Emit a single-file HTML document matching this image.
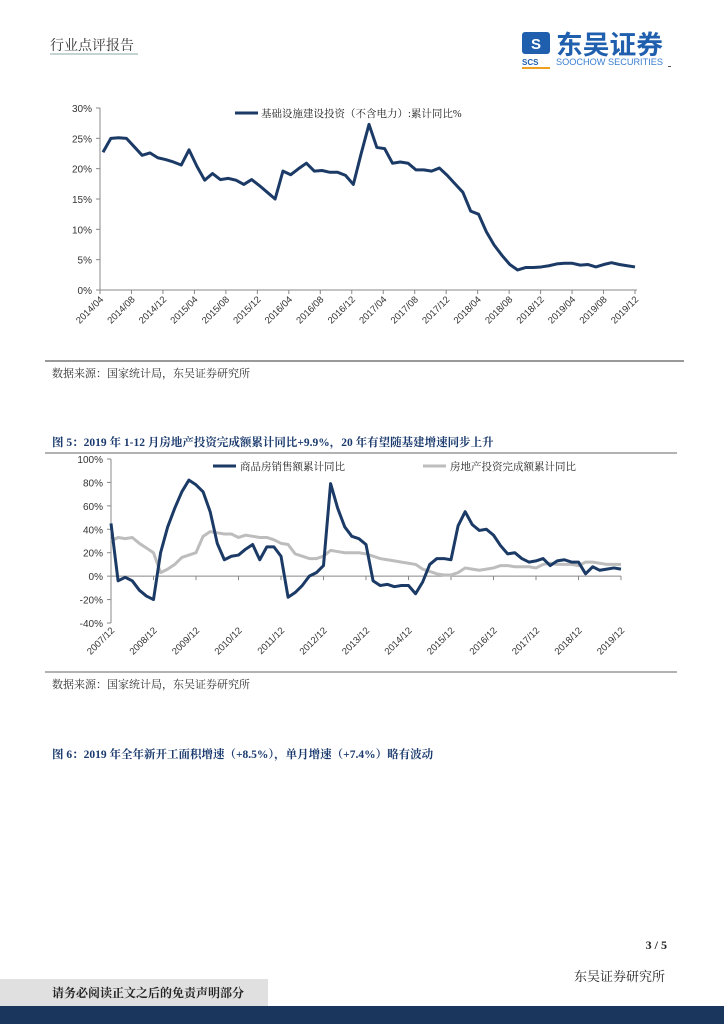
<!DOCTYPE html>
<html><head><meta charset="utf-8">
<style>
html,body{margin:0;padding:0;background:#fff;}
svg{display:block;font-family:"Liberation Serif","Noto Serif CJK SC",serif;}
.sans{font-family:"Liberation Sans","Noto Sans CJK SC",sans-serif;}
</style></head>
<body>
<svg id="pg" width="724" height="1024" viewBox="0 0 724 1024" xmlns="http://www.w3.org/2000/svg">
  <text x="50" y="50" font-size="14" fill="#333">行业点评报告</text>
  <line x1="50" y1="54" x2="138" y2="54" stroke="#8aa" stroke-width="1"/>
  <g>
    <rect x="522" y="32" width="28" height="22" fill="#1f5fae" rx="3"/>
    <text x="536" y="49" font-size="15" fill="#fff" text-anchor="middle" class="sans" font-weight="bold">S</text>
    <text x="522" y="65" font-size="8" fill="#1f5fae" class="sans" font-weight="bold">SCS</text>
    <rect x="522" y="67" width="28" height="2" fill="#f0a020"/>
    <text x="556" y="54" font-size="26" fill="#1f5fae" class="sans" font-weight="bold" textLength="107" lengthAdjust="spacingAndGlyphs">东吴证券</text>
    <text x="556" y="65" font-size="9" fill="#3a7fd0" class="sans" textLength="107" lengthAdjust="spacingAndGlyphs">SOOCHOW SECURITIES</text>
  </g>
  <rect x="668" y="66" width="3" height="1" fill="#555"/>

  <g id="chart1"></g>
  <line x1="45" y1="361" x2="684" y2="361" stroke="#333" stroke-width="1"/>
  <text x="52" y="377" font-size="11" fill="#333">数据来源：国家统计局，东吴证券研究所</text>

  <text x="52" y="446" font-size="11.5" fill="#1a3a6e" font-weight="bold">图 5：2019 年 1-12 月房地产投资完成额累计同比+9.9%，20 年有望随基建增速同步上升</text>
  <line x1="45" y1="453" x2="677" y2="453" stroke="#999" stroke-width="1.5"/>
  <g id="chart2"></g>
  <line x1="45" y1="672" x2="677" y2="672" stroke="#999" stroke-width="1.5"/>
  <text x="52" y="688" font-size="11" fill="#333">数据来源：国家统计局，东吴证券研究所</text>

  <text x="52" y="758" font-size="11.5" fill="#1a3a6e" font-weight="bold">图 6：2019 年全年新开工面积增速（+8.5%），单月增速（+7.4%）略有波动</text>

  <text x="667" y="949" font-size="12" fill="#222" font-weight="bold" text-anchor="end">3 / 5</text>
  <text x="665" y="981" font-size="13" fill="#222" text-anchor="end">东吴证券研究所</text>
  <rect x="0" y="979" width="268" height="27" fill="#e0e0e0"/>
  <text x="52" y="997" font-size="12" fill="#222" font-weight="bold">请务必阅读正文之后的免责声明部分</text>
  <rect x="0" y="1006" width="724" height="18" fill="#1a365d"/>
</svg>
<script>
const NS='http://www.w3.org/2000/svg';
const infraTicks=['2014/04','2014/08','2014/12','2015/04','2015/08','2015/12','2016/04','2016/08','2016/12','2017/04','2017/08','2017/12','2018/04','2018/08','2018/12','2019/04','2019/08','2019/12'];
const infraYTicks=[0,5,10,15,20,25,30];
const infraValues=[22.7,25.0,25.1,25.0,23.6,22.2,22.6,21.8,21.5,21.1,20.6,23.1,20.4,18.1,19.2,18.2,18.4,18.1,17.4,18.2,17.2,16.1,15.0,19.6,19.0,20.0,20.9,19.6,19.7,19.4,19.4,18.9,17.4,22.5,27.3,23.5,23.3,20.9,21.1,20.9,19.8,19.8,19.6,20.1,18.9,17.5,16.1,13.0,12.5,9.6,7.4,5.7,4.2,3.3,3.7,3.7,3.8,4.0,4.3,4.4,4.4,4.1,4.2,3.8,4.2,4.5,4.2,4.0,3.8];
const reTicks=['2007/12','2008/12','2009/12','2010/12','2011/12','2012/12','2013/12','2014/12','2015/12','2016/12','2017/12','2018/12','2019/12'];
const reYTicks=[-40,-20,0,20,40,60,80,100];
const salesValues=[45,-4,-1,-4,-12,-17,-20,20,42,58,72,82,78,72,55,28,14,17,18,23,27,14,25,25,17,-18,-14,-8,0,3,9,79,58,42,34,32,27,-4,-8,-7,-9,-8,-8,-15,-5,10,15,15,14,43,55,44,39,40,35,26,19,20,15,12,13,15,9,13,14,12,12,2,8,5,6,7,6];
const investValues=[30,33,32,33,28,24,20,3,6,10,16,18,20,34,38,37,36,36,33,35,34,33,33,31,28,27,19,17,15,15,17,22,21,20,20,20,19,17,15,14,13,12,11,10,6,4,2,1,1,3,7,6,5,6,7,9,9,8,8,8,7,10,11,10,10,10,9,12,12,11,10,10,10];

function el(tag,attrs,parent,txt){const e=document.createElementNS(NS,tag);for(const k in attrs)e.setAttribute(k,attrs[k]);if(txt!==undefined)e.textContent=txt;parent.appendChild(e);return e;}

(function(){
  const g=document.getElementById('chart1');
  const x0=100,x1=635,y0=290,y1=108;
  const ys=v=>y0-(v-0)/30*(y0-y1);
  const xs=i=>x0+3+i*(x1-x0-3)/(infraValues.length-1);
  const ax=el('line',{x1:x0,y1:y1,x2:x0,y2:y0,stroke:'#888'},g);
  
  
  const bx=el('line',{x1:x0,y1:y0,x2:x1+2,y2:y0,stroke:'#888'},g);
  
  
  infraYTicks.forEach(v=>{
    const t=el('text',{x:x0-8,y:ys(v)+4,'font-size':10,'text-anchor':'end',fill:'#333',class:'sans'},g,v+'%');
    
    
    el('line',{x1:x0-4,y1:ys(v),x2:x0,y2:ys(v),stroke:'#888'},g);
  });
  infraTicks.forEach((lab,k)=>{
    const x=x0+k*(x1-x0)/(infraTicks.length-1);
    el('line',{x1:x,y1:y0,x2:x,y2:y0+4,stroke:'#888'},g);
    const t=el('text',{x:x+4,y:y0+10,'font-size':9.5,'text-anchor':'end',fill:'#333',class:'sans',transform:`rotate(-45 ${x+4} ${y0+10})`},g,lab);
    
    
  });
  const p=el('polyline',{points:infraValues.map((v,i)=>xs(i)+','+ys(v)).join(' '),fill:'none',stroke:'#1b3a66','stroke-width':3,'stroke-linejoin':'round'},g);
  
  
  const lg=el('g',{},g);
  
  
  el('line',{x1:235,y1:113,x2:258,y2:113,stroke:'#1b3a66','stroke-width':3},lg);
  el('text',{x:261,y:117,'font-size':10.5,fill:'#222'},lg,'基础设施建设投资（不含电力）:累计同比%');
})();

(function(){
  const g=document.getElementById('chart2');
  const x0=111,x1=621,y0=623,y1=459;
  const ys=v=>y0-(v+40)/140*(y0-y1);
  const xs=i=>x0+i*(x1-x0)/(salesValues.length-1);
  const ax=el('line',{x1:x0,y1:y1,x2:x0,y2:y0,stroke:'#888'},g);
  
  
  const zx=el('line',{x1:x0,y1:ys(0),x2:x1,y2:ys(0),stroke:'#888'},g);
  
  
  reYTicks.forEach(v=>{
    const t=el('text',{x:x0-8,y:ys(v)+4,'font-size':10,'text-anchor':'end',fill:'#333',class:'sans'},g,v+'%');
    
    
    el('line',{x1:x0-4,y1:ys(v),x2:x0,y2:ys(v),stroke:'#888'},g);
  });
  reTicks.forEach((lab,k)=>{
    const x=x0+k*(x1-x0)/(reTicks.length-1);
    el('line',{x1:x,y1:ys(0),x2:x,y2:ys(0)+4,stroke:'#888'},g);
    const t=el('text',{x:x+4,y:y0+8,'font-size':9.5,'text-anchor':'end',fill:'#333',class:'sans',transform:`rotate(-45 ${x+4} ${y0+8})`},g,lab);
    
    
  });
  const pg=el('polyline',{points:investValues.map((v,i)=>xs(i)+','+ys(v)).join(' '),fill:'none',stroke:'#bdbdbd','stroke-width':3,'stroke-linejoin':'round'},g);
  
  
  const pd=el('polyline',{points:salesValues.map((v,i)=>xs(i)+','+ys(v)).join(' '),fill:'none',stroke:'#1b3a66','stroke-width':3,'stroke-linejoin':'round'},g);
  
  
  const l1=el('g',{},g);
  
  
  el('line',{x1:213,y1:466,x2:236,y2:466,stroke:'#1b3a66','stroke-width':3},l1);
  el('text',{x:240,y:470,'font-size':10.5,fill:'#222'},l1,'商品房销售额累计同比');
  const l2=el('g',{},g);
  
  
  el('line',{x1:423,y1:466,x2:446,y2:466,stroke:'#bdbdbd','stroke-width':3},l2);
  el('text',{x:450,y:470,'font-size':10.5,fill:'#222'},l2,'房地产投资完成额累计同比');
})();
</script>
</body></html>
